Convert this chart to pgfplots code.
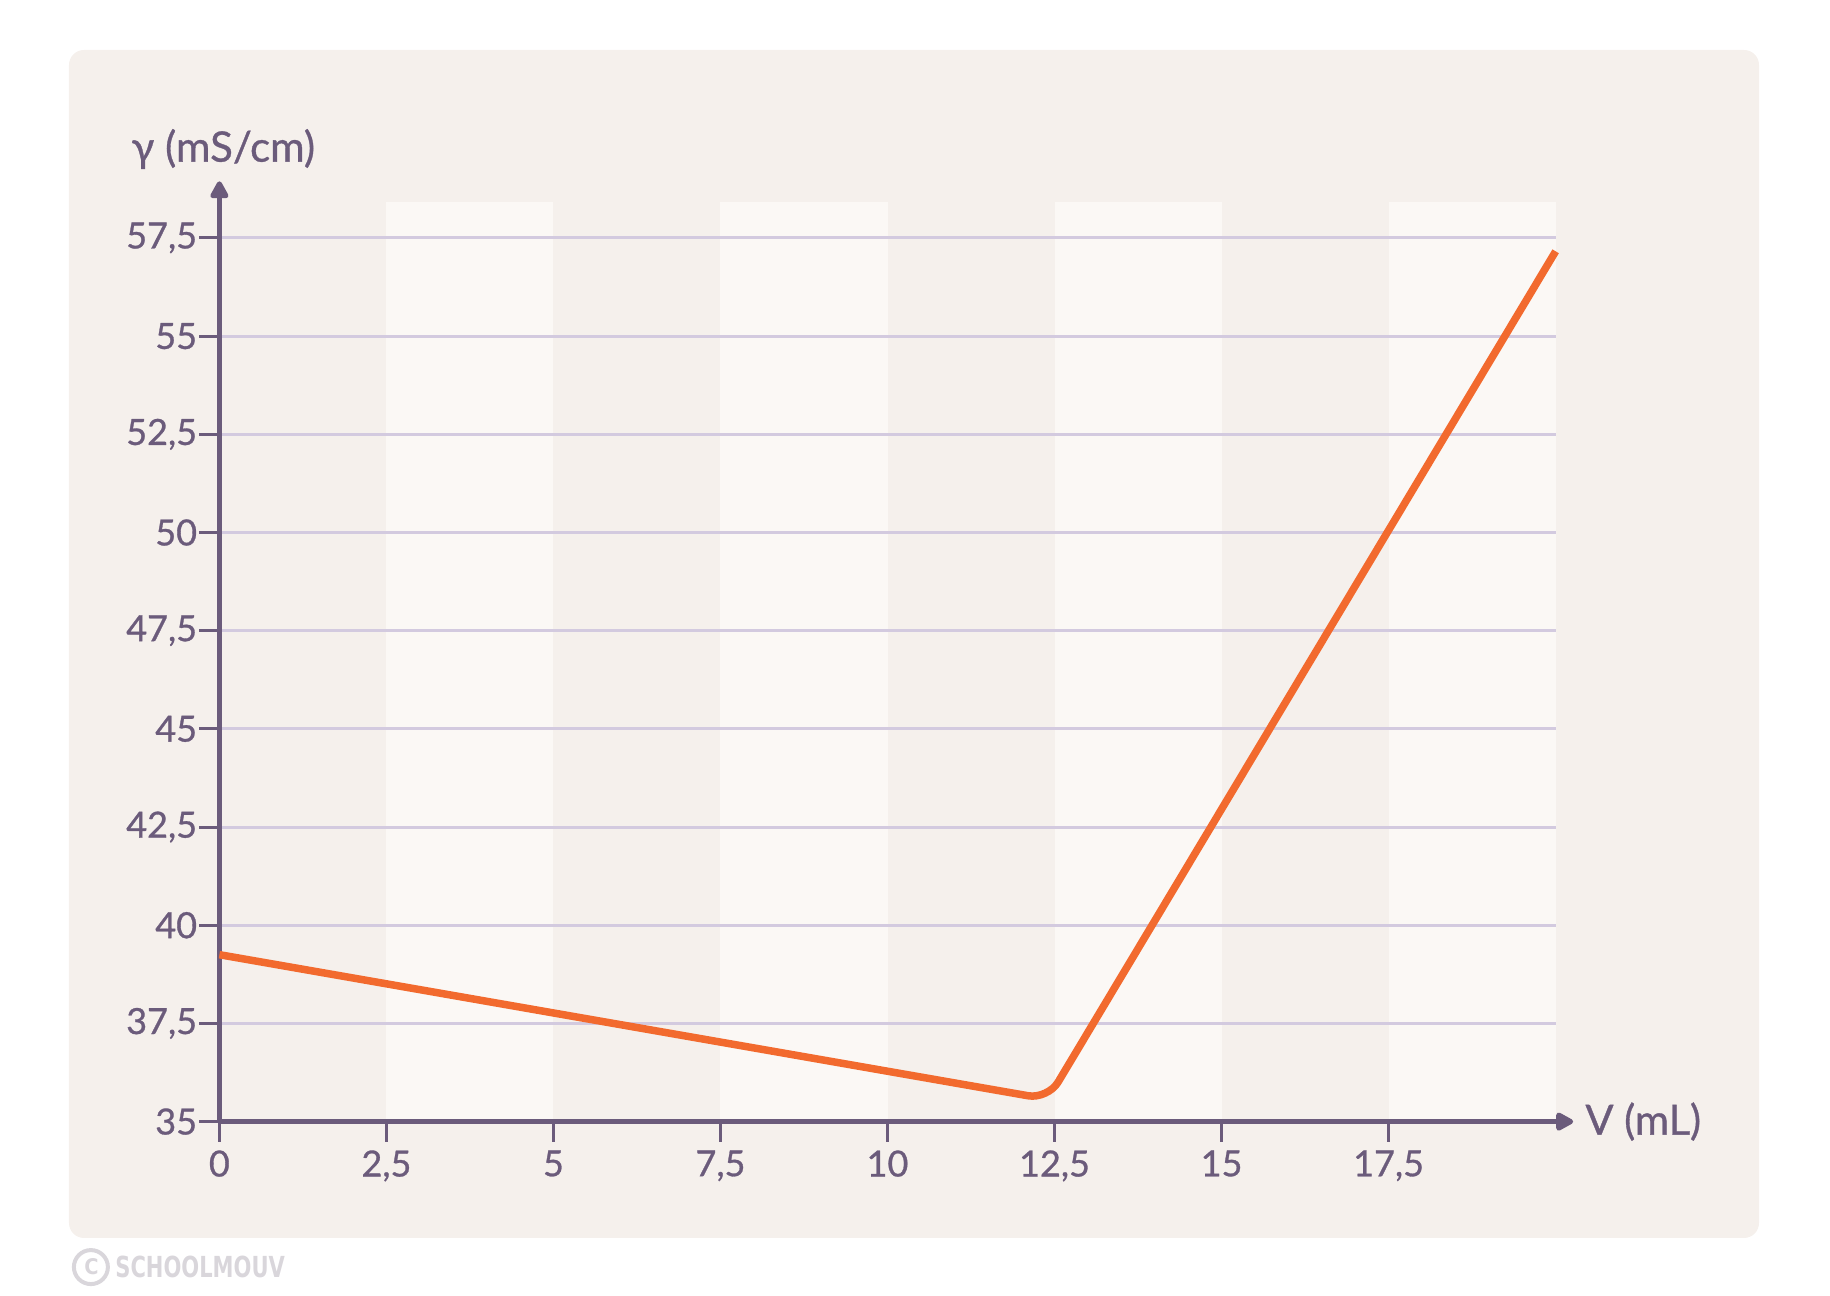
\documentclass[border=0pt]{standalone}
\usepackage{fontspec}
\setmainfont{Lato}[UprightFeatures={FakeBold=0.8}]
\newfontfamily\logofont{DejaVu Sans Condensed}
\usepackage{pgfplots}
\pgfplotsset{compat=1.18}
\usetikzlibrary{arrows.meta}
\definecolor{panel}{HTML}{F5F0EC}
\definecolor{stripe}{HTML}{FBF8F5}
\definecolor{ink}{HTML}{6B5B7B}
\definecolor{gridc}{HTML}{D3CADF}
\definecolor{curve}{HTML}{F26A2E}
\definecolor{logo}{HTML}{D9D6DB}
\pgfplotsset{base/.style={at={(0pt,0pt)}, anchor=south west,
  scale only axis, width=534.5pt, height=367.9pt,
  xmin=0, xmax=20, ymin=35, ymax=58.42, clip=false}}
\begin{document}
\begin{tikzpicture}
\fill[panel, rounded corners=6pt] (-60.16pt,-46.56pt) rectangle (615.84pt,428.64pt);
\begin{axis}[base, hide axis]
\fill[stripe] (axis cs:2.5,35) rectangle (axis cs:5,58.42);
\fill[stripe] (axis cs:7.5,35) rectangle (axis cs:10,58.42);
\fill[stripe] (axis cs:12.5,35) rectangle (axis cs:15,58.42);
\fill[stripe] (axis cs:17.5,35) rectangle (axis cs:20,58.42);
\end{axis}
\begin{axis}[
  base,
  axis lines=left,
  axis line style={ink, line width=2.1pt},
  x axis line style={-{Triangle[length=8pt,width=8pt,round]}, shorten >=-7pt},
  y axis line style={-{Triangle[length=8pt,width=8pt,round]}, shorten >=-8.2pt},
  xtick={0,2.5,5,7.5,10,12.5,15,17.5},
  ytick={35,37.5,40,42.5,45,47.5,50,52.5,55,57.5},
  tick align=outside, major tick length=8pt,
  tick style={ink, line width=1.2pt},
  ymajorgrids, grid style={gridc, line width=1.2pt},
  ticklabel style={font=\fontsize{14.4}{16}\selectfont, text=ink},
  yticklabel style={xshift=2.6pt},
  /pgf/number format/use comma,
  /pgf/number format/assume math mode=true,
  xlabel={V (mL)}, ylabel={γ (mS/cm)},
  every axis x label/.style={at={(axis description cs:1.0157,0)}, anchor=west, font=\fontsize{16.6}{18}\selectfont, text=ink},
  every axis y label/.style={at={(axis description cs:-0.0724,1.0575)}, anchor=west, font=\fontsize{16.8}{18}\selectfont, text=ink},
]
\addplot[curve, line width=3pt, rounded corners=8pt] coordinates {(0,39.25) (12.4,35.57) (20,57.16)};
\end{axis}
\draw[logo, line width=1.6pt] (-51.4pt,-58.2pt) circle (6.8pt);
\node[text=logo, inner sep=0pt] at (-51.2pt,-58.2pt) {\resizebox{!}{6.4pt}{\logofont\bfseries C}};
\node[anchor=west, text=logo, inner sep=0pt] at (-41.8pt,-58.2pt) {\resizebox{67.8pt}{8.6pt}{\logofont\bfseries SCHOOLMOUV}};
\path (-87.76pt,-69.76pt) rectangle (644.24pt,448.64pt);
\end{tikzpicture}
\end{document}
